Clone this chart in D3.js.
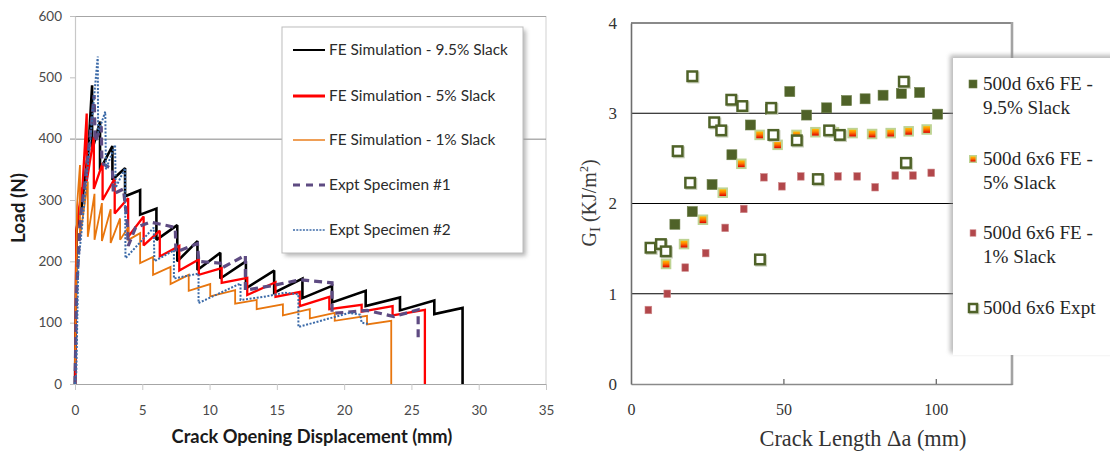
<!DOCTYPE html>
<html>
<head>
<meta charset="utf-8">
<script src="https://cdn.jsdelivr.net/npm/d3@7"></script>
<style>
  html, body { margin: 0; padding: 0; background: #ffffff; }
  svg { display: block; }
</style>
</head>
<body>
<svg id="chart" width="1110" height="454"></svg>
<script>
// ===== Left panel: load vs. crack opening displacement =====
const loadTicks = [0, 100, 200, 300, 400, 500, 600];
const codTicks = [0, 5, 10, 15, 20, 25, 30, 35];
const loadGridValues = [400, 600];
const loadSeriesNames = [
  "FE Simulation - 9.5% Slack",
  "FE Simulation - 5% Slack",
  "FE Simulation - 1% Slack",
  "Expt Specimen #1",
  "Expt Specimen #2"
];

// [displacement (mm), load (N)]
const sim95Load = [[0,0],[0.12,250],[0.45,300],[0.45,282],[0.9,365],[0.9,345],[1.27,487],[1.27,381],
  [1.86,428],[1.86,349],[2.78,388],[2.78,333],[3.72,352],[3.72,306],[4.84,316],[4.84,276],
  [6.05,286],[6.05,235],[7.6,259],[7.6,200],[9.1,233],[9.1,186],[10.8,214],[10.8,172],
  [12.7,200],[12.7,156],[14.8,185],[14.8,149],[16.9,172],[16.9,140],[19.1,160],[19.1,133],
  [21.6,152],[21.6,127],[24.15,141],[24.15,120],[26.7,136],[26.7,114],[28.8,124],[28.8,0]];

const sim5Load = [[0.02,0],[0.1,250],[0.5,320],[0.5,300],[0.87,441],[0.87,330],[1.4,403],[1.4,318],
  [2.05,360],[2.05,300],[2.95,335],[2.95,278],[3.95,303],[3.95,240],[5.1,273],[5.1,226],
  [6.3,250],[6.3,208],[7.75,225],[7.75,185],[9.2,203],[9.2,178],[10.9,189],[10.9,165],
  [12.8,173],[12.8,145],[14.9,166],[14.9,142],[16.7,150],[16.7,127],[18.9,142],[18.9,122],
  [21.3,129],[21.3,118],[23.6,127],[23.6,112],[26.0,121],[26.0,0]];

const sim1Load = [[0,25],[0.15,290],[0.37,357],[0.37,240],[0.95,330],[0.95,240],[1.45,310],[1.45,235],
  [2.0,295],[2.0,233],[2.65,285],[2.65,230],[3.35,270],[3.35,235],[3.97,256],[3.97,235],
  [4.84,246],[4.84,197],[5.8,207],[5.8,178],[7.1,191],[7.1,163],[8.45,178],[8.45,152],
  [10.05,163],[10.05,143],[11.9,153],[11.9,131],[13.5,137],[13.5,122],[15.45,130],[15.45,112],
  [17.45,122],[17.45,107],[19.3,116],[19.3,103],[21.7,111],[21.7,97],[23.5,103],[23.5,0]];

const exptLoad1 = [[0,0],[0.12,150],[0.4,270],[0.75,330],[1.1,400],[1.42,471],[1.5,395],[1.95,420],
  [2.0,360],[2.78,350],[2.85,310],[3.6,318],[3.9,258],[3.95,225],[4.5,255],[5.6,264],
  [6.9,258],[7.45,255],[7.5,215],[9.1,229],[9.2,200],[10.8,197],[10.9,189],[12.66,210],
  [12.66,153],[14.8,161],[16.75,170],[19.1,165],[19.1,115],[21.7,120],[23.7,110],[25.5,121],[25.5,69]];

const exptLoad2 = [[0,0],[0.1,20],[0.25,200],[0.45,240],[1.1,390],[1.69,534],[1.72,410],[2.25,444],
  [2.3,350],[2.98,390],[3.02,320],[3.72,352],[3.75,205],[5.85,255],[5.9,200],[7.35,218],
  [7.35,172],[9.18,180],[9.18,132],[12.3,164],[12.3,137],[14.0,142],[15.6,149],[16.6,146],
  [16.6,93],[20.4,116],[21.2,113],[21.3,100],[21.8,98]];

// ===== Right panel: G_I vs. crack length =====
const giTicks = [0, 1, 2, 3, 4];
const crackTicks = [0, 50, 100];
const giGridValues = [1, 2, 3];
const giLegendLines = [
  ["500d 6x6 FE -", "9.5% Slack"],
  ["500d 6x6 FE -", "5% Slack"],
  ["500d 6x6 FE -", "1% Slack"],
  ["500d 6x6 Expt"]
];

// [crack length (mm), G_I (kJ/m^2)]
const gi95 = [[14.4,1.77],[20.1,1.91],[26.6,2.21],[33.1,2.54],[39.2,2.87],[45.8,3.04],[52.1,3.24],
  [57.6,2.98],[64.2,3.06],[70.7,3.14],[76.8,3.16],[82.7,3.20],[88.7,3.22],[94.7,3.23],[100.6,2.99]];

const gi5 = [[11.5,1.33],[17.4,1.55],[23.6,1.82],[30.1,2.12],[36.2,2.44],[42.2,2.76],[48.1,2.65],
  [54.3,2.76],[60.5,2.79],[66.6,2.79],[72.7,2.78],[79.1,2.77],[85.2,2.78],[91.1,2.80],[97.0,2.82]];

const gi1 = [[5.7,0.82],[11.9,1.0],[17.8,1.29],[24.5,1.45],[30.9,1.73],[37.0,1.94],[43.6,2.29],
  [49.5,2.19],[55.7,2.30],[61.7,2.29],[67.9,2.30],[74.2,2.30],[80.1,2.18],[86.7,2.31],[92.5,2.31],[98.5,2.34]];

const giExpt = [[6.4,1.51],[9.8,1.55],[11.4,1.47],[15.3,2.58],[19.4,2.23],[20.1,3.41],[27.3,2.90],
  [29.6,2.81],[32.9,3.15],[36.5,3.08],[42.3,1.38],[46.0,3.06],[46.7,2.76],[54.4,2.70],[61.3,2.27],
  [65.0,2.81],[68.5,2.76],[89.5,3.35],[90.2,2.45]];

// ---------------------------------------------------------------------------
const svg = d3.select("#chart");
const defs = svg.append("defs");

// blur used for legend shadows
const shadow = defs.append("filter").attr("id", "shadowBlur")
  .attr("x", "-10%").attr("y", "-10%").attr("width", "120%").attr("height", "120%");
shadow.append("feGaussianBlur").attr("stdDeviation", 2.2);

// vertical yellow-to-red fill of the 5% markers
const grad = defs.append("linearGradient").attr("id", "warmFill")
  .attr("x1", 0).attr("y1", 0).attr("x2", 0).attr("y2", 1);
grad.append("stop").attr("offset", "0%").attr("stop-color", "#ffc000");
grad.append("stop").attr("offset", "45%").attr("stop-color", "#ff7a00");
grad.append("stop").attr("offset", "100%").attr("stop-color", "#e00000");

// scale a text's font so it spans a given width
function fitWidth(sel, w) {
  const len = sel.node().getComputedTextLength();
  const fs = parseFloat(sel.attr("font-size"));
  if (len > 0) sel.attr("font-size", (fs * w / len).toFixed(2));
  return parseFloat(sel.attr("font-size"));
}

// =========================== LEFT PANEL ===================================
const sansFont = "Lato, 'Open Sans', 'Liberation Sans', sans-serif";
const xL = d3.scaleLinear().domain([0, 35]).range([75, 546]);
const yL = d3.scaleLinear().domain([0, 600]).range([384, 16]);

const left = svg.append("g");

// frame
left.append("line").attr("x1", xL(35)).attr("x2", xL(35)).attr("y1", yL(600)).attr("y2", yL(0))
  .attr("stroke", "#d9d9d9").attr("stroke-width", 1.2);

// gridlines
left.selectAll("line.grid").data(loadGridValues).join("line").attr("class", "grid")
  .attr("x1", xL(0) - 5).attr("x2", xL(35))
  .attr("y1", d => yL(d) + 0.5).attr("y2", d => yL(d) + 0.5)
  .attr("stroke", d => d === 600 ? "#a6a6a6" : "#868686").attr("stroke-width", 1);

// y axis
const yAxisL = left.append("g").attr("transform", `translate(${xL(0)},0)`)
  .call(d3.axisLeft(yL).tickValues(loadTicks).tickSize(5).tickSizeOuter(0).tickPadding(8));
yAxisL.select(".domain").attr("stroke", "#c8c8c8").attr("stroke-width", 1.2);
yAxisL.selectAll(".tick line").attr("stroke", "#bfbfbf");
yAxisL.selectAll(".tick text").attr("font-family", sansFont).attr("font-size", 13.5)
  .attr("fill", "#4a4a4a");

// x axis
const xAxisL = left.append("g").attr("transform", `translate(0,${yL(0)})`)
  .call(d3.axisBottom(xL).tickValues(codTicks).tickSize(6).tickSizeOuter(0).tickPadding(15));
xAxisL.select(".domain").attr("stroke", "#a6a6a6").attr("stroke-width", 1.2);
xAxisL.selectAll(".tick line").attr("stroke", "#c8c8c8");
xAxisL.selectAll(".tick text").attr("font-family", sansFont).attr("font-size", 13.5)
  .attr("fill", "#4a4a4a");

// axis titles
const xTitleL = left.append("text").attr("x", 312).attr("y", 443)
  .attr("text-anchor", "middle").attr("font-family", sansFont).attr("font-weight", "bold")
  .attr("font-size", 17).attr("fill", "#1a1a1a").text("Crack Opening Displacement (mm)");
fitWidth(xTitleL, 281);

const yTitleL = left.append("text").attr("transform", "translate(25,208) rotate(-90)")
  .attr("text-anchor", "middle").attr("font-family", sansFont).attr("font-weight", "bold")
  .attr("font-size", 17).attr("fill", "#1a1a1a").text("Load (N)");
fitWidth(yTitleL, 70);

// series
const loadStyles = [
  { data: sim95Load, color: "#000000", width: 2.6, dash: null },
  { data: sim5Load,  color: "#ff0000", width: 2.3, dash: null },
  { data: sim1Load,  color: "#e8760e", width: 1.8, dash: null },
  { data: exptLoad1, color: "#5e4b82", width: 3.2, dash: "8,5" },
  { data: exptLoad2, color: "#3b6aa8", width: 2.0, dash: "2,1.6" }
];
defs.append("clipPath").attr("id", "clipL").append("rect")
  .attr("x", xL(0) - 2).attr("y", yL(600)).attr("width", xL(35) - xL(0) + 2).attr("height", yL(0) - yL(600) + 1);

const lineL = d3.line().x(d => xL(d[0])).y(d => yL(d[1]));
left.append("g").attr("clip-path", "url(#clipL)")
  .selectAll("path.series").data(loadStyles).join("path").attr("class", "series")
  .attr("d", d => lineL(d.data))
  .attr("fill", "none")
  .attr("stroke", d => d.color)
  .attr("stroke-width", d => d.width)
  .attr("stroke-dasharray", d => d.dash)
  .attr("stroke-linejoin", "miter")
  .attr("stroke-miterlimit", 2);

// legend
const lgL = left.append("g");
lgL.append("rect").attr("x", 285).attr("y", 30).attr("width", 241).attr("height", 226)
  .attr("fill", "#9a9a9a").attr("opacity", 0.7).attr("filter", "url(#shadowBlur)");
lgL.append("rect").attr("x", 282).attr("y", 27).attr("width", 241).attr("height", 226)
  .attr("fill", "#ffffff").attr("stroke", "#bdbdbd").attr("stroke-width", 1);
const rowY = [50, 96, 140, 185, 230];
const lgRows = lgL.selectAll("g.row").data(loadStyles).join("g").attr("class", "row")
  .attr("transform", (d, i) => `translate(0,${rowY[i]})`);
lgRows.append("line").attr("x1", 293).attr("x2", 325).attr("y1", 0).attr("y2", 0)
  .attr("stroke", d => d.color)
  .attr("stroke-width", (d, i) => [2, 3, 1.4, 3, 1.4][i])
  .attr("stroke-dasharray", (d, i) => [null, null, null, "7,6", "2,1.3"][i]);
const lgText = lgRows.append("text").attr("x", 329).attr("y", 5)
  .attr("font-family", sansFont).attr("font-size", 14).attr("fill", "#2b2b2b")
  .text((d, i) => loadSeriesNames[i]);
const lgFs = fitWidth(d3.select(lgText.nodes()[0]), 179);
lgText.attr("font-size", lgFs);

// =========================== RIGHT PANEL ==================================
const serifFont = "'Liberation Serif', 'DejaVu Serif', serif";
const xR = d3.scaleLinear().domain([0, 125]).range([631, 1012]);
const yR = d3.scaleLinear().domain([0, 4]).range([384, 23]);
const right = svg.append("g");

// gridlines
right.selectAll("line.grid").data(giGridValues).join("line").attr("class", "grid")
  .attr("x1", xR(0)).attr("x2", xR(125))
  .attr("y1", d => yR(d)).attr("y2", d => yR(d))
  .attr("stroke", "#000000").attr("stroke-width", 1.1);

// frame
right.append("line").attr("x1", xR(0)).attr("x2", xR(125)).attr("y1", yR(4)).attr("y2", yR(4))
  .attr("stroke", "#8a8a8a").attr("stroke-width", 2.2);
right.append("line").attr("x1", xR(125)).attr("x2", xR(125)).attr("y1", yR(4) - 1).attr("y2", yR(0) + 1)
  .attr("stroke", "#a3a3a3").attr("stroke-width", 2.6);

const xAxisR = right.append("g").attr("transform", `translate(0,${yR(0)})`)
  .call(d3.axisBottom(xR).tickValues(crackTicks).tickFormat(d3.format("d"))
    .tickSize(-5).tickSizeOuter(0).tickPadding(26));
xAxisR.select(".domain").attr("stroke", "#8a8a8a").attr("stroke-width", 1.6);
xAxisR.selectAll(".tick line").attr("stroke", "#6a6a6a").attr("stroke-width", 1.3)
  .filter(d => d === 0).remove();
xAxisR.selectAll(".tick text").attr("font-family", serifFont).attr("font-size", 16)
  .attr("fill", "#333333").attr("dy", "0.32em");

const yAxisR = right.append("g").attr("transform", `translate(${xR(0)},0)`)
  .call(d3.axisLeft(yR).tickValues(giTicks).tickFormat(d3.format("d"))
    .tickSize(0).tickSizeOuter(0).tickPadding(14));
yAxisR.select(".domain").attr("stroke", "#6e6e6e").attr("stroke-width", 1.6);
yAxisR.selectAll(".tick text").attr("font-family", serifFont).attr("font-size", 17)
  .attr("fill", "#333333");

// axis titles
const xTitleR = right.append("text").attr("x", 863).attr("y", 446)
  .attr("text-anchor", "middle").attr("font-family", serifFont).attr("font-size", 20)
  .attr("fill", "#333333").text("Crack Length \u0394a (mm)");
fitWidth(xTitleR, 207);

const yTitleR = right.append("text").attr("transform", "translate(596,203) rotate(-90)")
  .attr("text-anchor", "middle").attr("font-family", serifFont).attr("font-size", 20)
  .attr("fill", "#3a3a3a");
yTitleR.append("tspan").text("G");
yTitleR.append("tspan").attr("font-size", 15).attr("dy", 4).text("I");
yTitleR.append("tspan").attr("dy", -4).text(" (KJ/m");
yTitleR.append("tspan").attr("font-size", 12).attr("dy", -8).text("2");
yTitleR.append("tspan").attr("dy", 8).text(")");

// markers
function drawMarkers(g, data, kind, s) {
  const cx = d => xR(d[0]), cy = d => yR(d[1]);
  const sel = g.selectAll(null).data(data).join("g")
    .attr("transform", d => `translate(${cx(d)},${cy(d)})`);
  markerShape(sel, kind, s);
}
function markerShape(sel, kind, s) {
  if (kind === "fill95") {
    sel.append("rect").attr("x", -s / 2).attr("y", -s / 2).attr("width", s).attr("height", s)
      .attr("fill", "#4f6228").attr("stroke", "#6b7d47").attr("stroke-width", 0.6);
  } else if (kind === "warm5") {
    sel.append("rect").attr("x", -s / 2).attr("y", -s / 2).attr("width", s).attr("height", s)
      .attr("fill", "#b3cb80").attr("opacity", 0.85);
    const inner = s * 0.64;
    sel.append("rect").attr("x", -inner / 2).attr("y", -inner / 2).attr("width", inner).attr("height", inner)
      .attr("fill", "url(#warmFill)");
  } else if (kind === "red1") {
    sel.append("rect").attr("x", -s * 0.45).attr("y", -s / 2).attr("width", s * 0.9).attr("height", s)
      .attr("fill", "#b2474b").attr("stroke", "#cf8a8b").attr("stroke-width", 0.6);
  } else {
    sel.append("rect").attr("x", -s / 2 + 1.2).attr("y", -s / 2 + 1.2).attr("width", s).attr("height", s)
      .attr("fill", "none").attr("stroke", "#c9cfbb").attr("stroke-width", 2.4);
    sel.append("rect").attr("x", -s / 2).attr("y", -s / 2).attr("width", s).attr("height", s)
      .attr("fill", "#ffffff").attr("stroke", "#4f6228").attr("stroke-width", 2.5);
  }
}
const mk = right.append("g");
drawMarkers(mk.append("g"), gi95, "fill95", 10);
drawMarkers(mk.append("g"), gi5, "warm5", 10.5);
drawMarkers(mk.append("g"), gi1, "red1", 7.5);
drawMarkers(mk.append("g"), giExpt, "expt", 9.5);

// legend
const lgR = right.append("g");
lgR.append("rect").attr("x", 950).attr("y", 55).attr("width", 170).attr("height", 298)
  .attr("fill", "#8f8f8f").attr("opacity", 0.6).attr("filter", "url(#shadowBlur)");
lgR.append("rect").attr("x", 953).attr("y", 58).attr("width", 170).attr("height", 297)
  .attr("fill", "#ffffff");
const lgRowY = [84, 159, 233, 308];
const lgKinds = [["fill95", 8], ["warm5", 8], ["red1", 6.5], ["expt", 8]];
const lgRRows = lgR.selectAll("g.row").data(giLegendLines).join("g").attr("class", "row")
  .attr("transform", (d, i) => `translate(0,${lgRowY[i]})`);
lgRRows.each(function (d, i) {
  const g = d3.select(this);
  markerShape(g.append("g").attr("transform", "translate(973,0)"), lgKinds[i][0], lgKinds[i][1]);
  g.selectAll("text").data(d).join("text")
    .attr("x", 983).attr("y", (t, j) => 6 + j * 24)
    .attr("font-family", serifFont).attr("font-size", 17).attr("fill", "#262626")
    .text(t => t);
});
const firstLg = d3.select(lgRRows.selectAll("text").nodes()[0]);
const lgRFs = fitWidth(firstLg, 110);
lgRRows.selectAll("text").attr("font-size", lgRFs);
</script>
</body>
</html>
